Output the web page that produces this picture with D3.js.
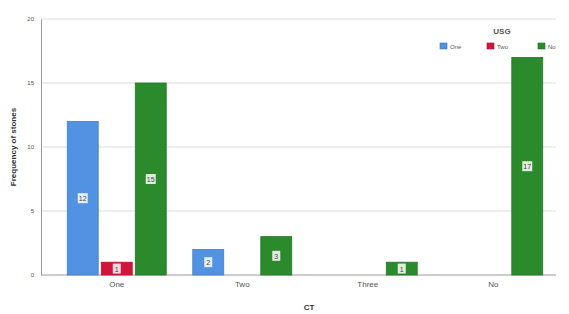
<!DOCTYPE html>
<html lang="en">
<head>
<meta charset="UTF-8">
<script src="https://d3js.org/d3.v7.min.js"></script>
<style>
  body { margin: 0; background: #fff; }
  text { font-family: "Liberation Sans", Arial, sans-serif; }
</style>
</head>
<body>
<svg id="chart" width="569" height="314"></svg>
<script>
const categories = ["One", "Two", "Three", "No"];
const series = ["One", "Two", "No"];
const valuesOne = [12, 2, 0, 0];
const valuesTwo = [1, 0, 0, 0];
const valuesNo = [15, 3, 1, 17];
const yTicks = [0, 5, 10, 15, 20];
const colors = ["#5292e2", "#d2143a", "#2b8a2b"];

const seriesValues = [valuesOne, valuesTwo, valuesNo];
const margin = {top: 19, right: 13, bottom: 39, left: 41};
const width = 569 - margin.left - margin.right,
      height = 314 - margin.top - margin.bottom;

const svg = d3.select("#chart");
const g = svg.append("g").attr("transform", `translate(${margin.left},${margin.top})`);

const x = d3.scaleBand().domain(categories).range([13, width]).padding(0);
const xs = d3.scaleBand().domain(series).range([0, x.bandwidth()]).paddingInner(0.09).paddingOuter(0.39);
const y = d3.scaleLinear().domain([0, 20]).range([height, 0]);

// grid
g.selectAll(".grid").data(yTicks.slice(1)).join("line")
  .attr("x1", 0).attr("x2", width)
  .attr("y1", d => y(d)).attr("y2", d => y(d))
  .attr("stroke", "#dcdcdc").attr("stroke-width", 1);

// y axis
const yAxis = g.append("g").call(d3.axisLeft(y).tickValues(yTicks).tickSize(0).tickPadding(7));
yAxis.select(".domain").attr("stroke", "#999");
yAxis.selectAll("text").attr("font-size", 6).attr("fill", "#555");

// x axis
const xAxis = g.append("g").attr("transform", `translate(0,${height})`)
  .call(d3.axisBottom(x).tickSize(0).tickPadding(6));
xAxis.select(".domain").attr("stroke", "#999").attr("d", `M0,0H${width}`);
xAxis.selectAll("text").attr("font-size", 8).attr("fill", "#555");

// bars
const rows = [];
categories.forEach((c, i) => series.forEach((s, j) => {
  if (seriesValues[j][i] > 0) rows.push({cat: c, ser: s, v: seriesValues[j][i], j});
}));

const bars = g.selectAll(".bar").data(rows).join("g");
bars.append("rect")
  .attr("x", d => x(d.cat) + xs(d.ser))
  .attr("width", xs.bandwidth())
  .attr("y", d => y(d.v))
  .attr("height", d => height - y(d.v))
  .attr("fill", d => colors[d.j])
  .attr("stroke", d => d3.color(colors[d.j]).darker(0.4))
  .attr("stroke-width", 0.8);

bars.append("rect")
  .attr("x", d => x(d.cat) + xs(d.ser) + xs.bandwidth() / 2 - (d.v >= 10 ? 5 : 4))
  .attr("y", d => y(d.v / 2) - 5)
  .attr("width", d => d.v >= 10 ? 10 : 8)
  .attr("height", 10)
  .attr("fill", "#fff")
  .attr("opacity", 0.85);

bars.append("text")
  .attr("x", d => x(d.cat) + xs(d.ser) + xs.bandwidth() / 2)
  .attr("y", d => y(d.v / 2) + 3)
  .attr("text-anchor", "middle")
  .attr("font-size", 7)
  .attr("fill", "#444")
  .text(d => d.v);

// axis titles
svg.append("text")
  .attr("transform", `translate(16,${margin.top + height / 2}) rotate(-90)`)
  .attr("text-anchor", "middle")
  .attr("font-size", 8).attr("font-weight", "bold").attr("fill", "#333")
  .text("Frequency of stones");

svg.append("text")
  .attr("x", 309).attr("y", 310)
  .attr("text-anchor", "middle")
  .attr("font-size", 8).attr("font-weight", "bold").attr("fill", "#333")
  .text("CT");

// legend
svg.append("text")
  .attr("x", 502).attr("y", 34)
  .attr("text-anchor", "middle")
  .attr("font-size", 8).attr("font-weight", "bold").attr("fill", "#555")
  .text("USG");

const legX = [440, 487, 538];
const leg = svg.selectAll(".leg").data(series).join("g")
  .attr("transform", (d, i) => `translate(${legX[i]},43)`);
leg.append("rect").attr("width", 7).attr("height", 6)
  .attr("fill", (d, i) => colors[i])
  .attr("stroke", (d, i) => d3.color(colors[i]).darker(0.6)).attr("stroke-width", 0.6);
leg.append("text").attr("x", 10).attr("y", 6)
  .attr("font-size", 6).attr("fill", "#555")
  .text(d => d);
</script>
</body>
</html>
